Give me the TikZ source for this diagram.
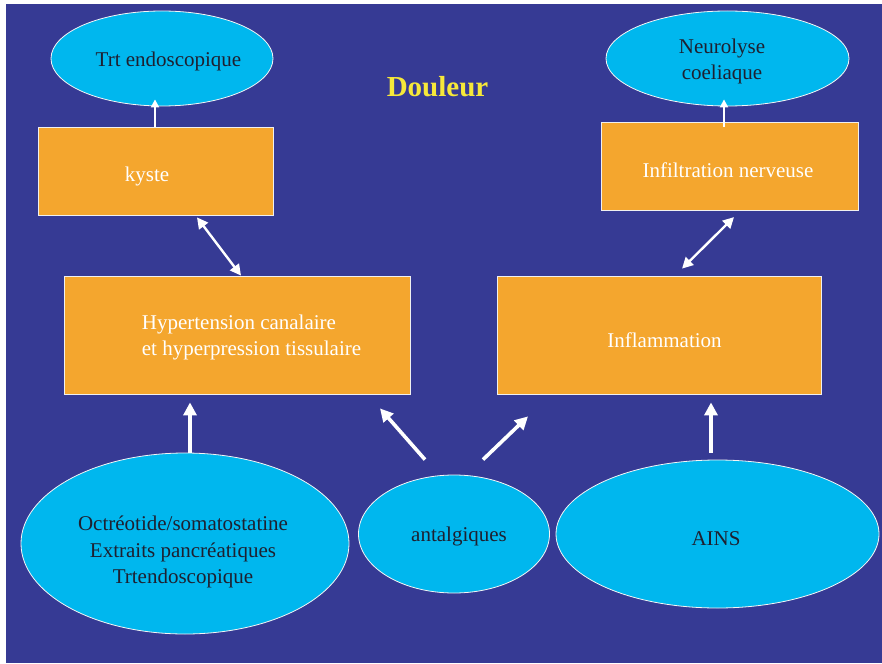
\documentclass[tikz,border=0pt]{standalone}
\usepackage{fontspec}
\setmainfont{Liberation Serif}
\usetikzlibrary{shapes.geometric,arrows.meta,calc}
\definecolor{bgblue}{RGB}{54,58,148}
\definecolor{boxorange}{RGB}{244,166,46}
\definecolor{elcyan}{RGB}{0,183,238}
\definecolor{titleyellow}{RGB}{246,232,58}
\definecolor{darktext}{RGB}{30,32,48}
\begin{document}
\begin{tikzpicture}[x=1pt,y=-1pt,
  boxst/.style={rectangle, draw=white!88!gray, line width=0.8pt, fill=boxorange, inner sep=0pt},
  ellst/.style={ellipse, draw=white!92!gray, line width=0.8pt, fill=elcyan, inner sep=0pt},
  wtxt/.style={text=white, font=\fontsize{21}{26.5}\selectfont, inner sep=0pt},
  dtxt/.style={text=darktext, font=\fontsize{21}{26.5}\selectfont, inner sep=0pt, align=center},
  titlest/.style={text=titleyellow, font=\fontsize{29}{34}\selectfont\bfseries, inner sep=0pt},
  bigarr/.style={draw=white, line width=3.6pt, -{Triangle[length=13pt,width=13pt]}},
  dblarr/.style={draw=white, line width=2.4pt, {Triangle[length=11pt,width=11pt]}-{Triangle[length=11pt,width=11pt]}},
  smallarr/.style={draw=white, line width=2.4pt, -{Triangle[length=8pt,width=8pt]}}]
\fill[white] (0,0) rectangle (882,663);
\fill[bgblue] (6,4) rectangle (882,663);
\useasboundingbox (0,0) rectangle (882,663);

% top ellipses
\node[ellst, minimum width=222pt, minimum height=95pt] (trt) at (162,58.5) {};
\node[dtxt, anchor=base] (ttrt) at (168.5,67) {Trt endoscopique};
\node[ellst, minimum width=243pt, minimum height=95pt] (neuro) at (727.5,58.5) {};
\node[dtxt] (tneuro) at (722,61.7) {Neurolyse\\coeliaque};

\node[titlest, anchor=base] (title) at (437.5,97) {Douleur};

% boxes
\node[boxst, minimum width=235pt, minimum height=88pt] (kyste) at (155.5,171) {};
\node[wtxt, anchor=base] (tkyste) at (147,181) {kyste};
\node[boxst, minimum width=257pt, minimum height=88pt] (infil) at (729.5,166) {};
\node[wtxt, anchor=base] (tinfil) at (728,177) {Infiltration nerveuse};
\node[boxst, minimum width=346pt, minimum height=118pt] (hyp) at (237,335) {};
\node[wtxt, align=left] (thyp) at (251.5,337.7) {Hypertension canalaire\\et hyperpression tissulaire};
\node[boxst, minimum width=324pt, minimum height=118pt] (infl) at (659,335) {};
\node[wtxt, anchor=base] (tinfl) at (664.5,347) {Inflammation};

% bottom ellipses
\node[ellst, minimum width=328pt, minimum height=181pt] (oct) at (185,543.5) {};
\node[dtxt] (toct) at (183,552) {Octréotide/somatostatine\\Extraits pancréatiques\\Trtendoscopique};
\node[ellst, minimum width=191pt, minimum height=118pt] (antal) at (454,534) {};
\node[dtxt, anchor=base] (tantal) at (459,541) {antalgiques};
\node[ellst, minimum width=323pt, minimum height=148pt] (ains) at (717.5,534) {};
\node[dtxt, anchor=base] (tains) at (716,545) {AINS};

% arrows
\draw[smallarr] ($(kyste.north)+(-0.5,0)$) -- ($(trt.south)+(-7,-7)$);
\draw[smallarr] ($(infil.north)+(-5.5,5)$) -- ($(neuro.south)+(-3.5,-7)$);
\draw[dblarr] ($(kyste.south)+(41.5,2)$) -- ($(hyp.north)+(4,0)$);
\draw[dblarr] ($(infil.south)+(4.5,6.7)$) -- ($(infl.north)+(23,-7)$);
\draw[bigarr] ($(oct.north)+(5,0)$) -- ($(hyp.south)+(-47,8)$);
\draw[bigarr] ($(antal.north)+(-29,-15)$) -- ($(hyp.south)+(143,14)$);
\draw[bigarr] ($(antal.north)+(29,-15)$) -- ($(infl.south)+(-131,22)$);
\draw[bigarr] ($(ains.north)+(-6.5,-7)$) -- ($(infl.south)+(52,8)$);
\end{tikzpicture}
\end{document}
